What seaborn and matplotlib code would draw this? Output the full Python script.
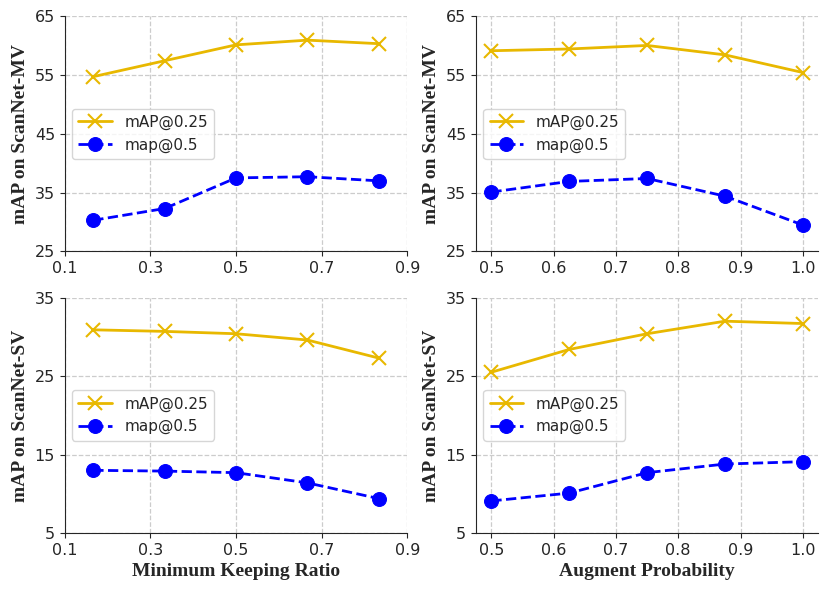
import seaborn as sns
import matplotlib.pyplot as plt
import pandas as pd

# x values
keepRatio = [1/6, 2/6, 3/6, 4/6, 5/6]
augProb = [0.5, 0.625, 0.75, 0.875, 1.0]

# ScanNet-MV
mvKeep25 = [54.7, 57.4, 60.1, 60.9, 60.3]
mvKeep50 = [30.3, 32.3, 37.5, 37.7, 37.0]
mvAug25 = [59.1, 59.4, 60.0, 58.4, 55.4]
mvAug50 = [35.1, 36.9, 37.4, 34.4, 29.5]

# ScanNet-SV
svKeep25 = [30.9, 30.7, 30.4, 29.6, 27.3]
svKeep50 = [13.0, 12.9, 12.7, 11.4, 9.4]
svAug25 = [25.5, 28.4, 30.4, 32.0, 31.7]
svAug50 = [9.1, 10.1, 12.7, 13.8, 14.1]

GOLD = "#E8B800"
BLUE = "#0000FF"

sns.set_style("ticks")
plt.rcParams['font.family'] = ['DejaVu Sans']


def drawPanel(ax, x, y25, y50, yticks, ylabel, xlabel=None, xticks=None):
    df = pd.DataFrame({"x": x + x, "y": y25 + y50,
                       "series": ["mAP@0.25"] * len(x) + ["map@0.5"] * len(x)})
    sns.lineplot(data=df[df.series == "mAP@0.25"], x="x", y="y", ax=ax, color=GOLD,
                 marker="x", markersize=10, markeredgewidth=1.5, markeredgecolor=GOLD,
                 linewidth=2, label="mAP@0.25")
    sns.lineplot(data=df[df.series == "map@0.5"], x="x", y="y", ax=ax, color=BLUE,
                 marker="o", markersize=10, linewidth=2, linestyle="--",
                 markeredgecolor=BLUE, label="map@0.5")
    ax.set_ylim(yticks[0], yticks[-1])
    ax.set_yticks(yticks)
    if xticks is not None:
        ax.set_xticks(xticks)
        ax.set_xlim(xticks[0], xticks[-1])
    ax.grid(True, linestyle="--", color="#cccccc", linewidth=0.9)
    ax.set_ylabel(ylabel, fontfamily="Liberation Serif", fontweight="bold", fontsize=14)
    if xlabel:
        ax.set_xlabel(xlabel, fontfamily="Liberation Serif", fontweight="bold", fontsize=14)
    else:
        ax.set_xlabel("")
    ax.tick_params(labelsize=11.5)
    ax.legend(loc="center left", fontsize=11, handlelength=2.2)
    sns.despine(ax=ax)


fig, axes = plt.subplots(2, 2, figsize=(8.3, 5.93), dpi=100)
plt.subplots_adjust(left=0.078, right=0.986, top=0.973, bottom=0.101,
                    wspace=0.2, hspace=0.196)

drawPanel(axes[0, 0], keepRatio, mvKeep25, mvKeep50, [25, 35, 45, 55, 65],
          "mAP on ScanNet-MV", xticks=[0.1, 0.3, 0.5, 0.7, 0.9])
drawPanel(axes[0, 1], augProb, mvAug25, mvAug50, [25, 35, 45, 55, 65],
          "mAP on ScanNet-MV")
drawPanel(axes[1, 0], keepRatio, svKeep25, svKeep50, [5, 15, 25, 35],
          "mAP on ScanNet-SV", xlabel="Minimum Keeping Ratio",
          xticks=[0.1, 0.3, 0.5, 0.7, 0.9])
drawPanel(axes[1, 1], augProb, svAug25, svAug50, [5, 15, 25, 35],
          "mAP on ScanNet-SV", xlabel="Augment Probability")

fig.savefig("out.png", dpi=100)
